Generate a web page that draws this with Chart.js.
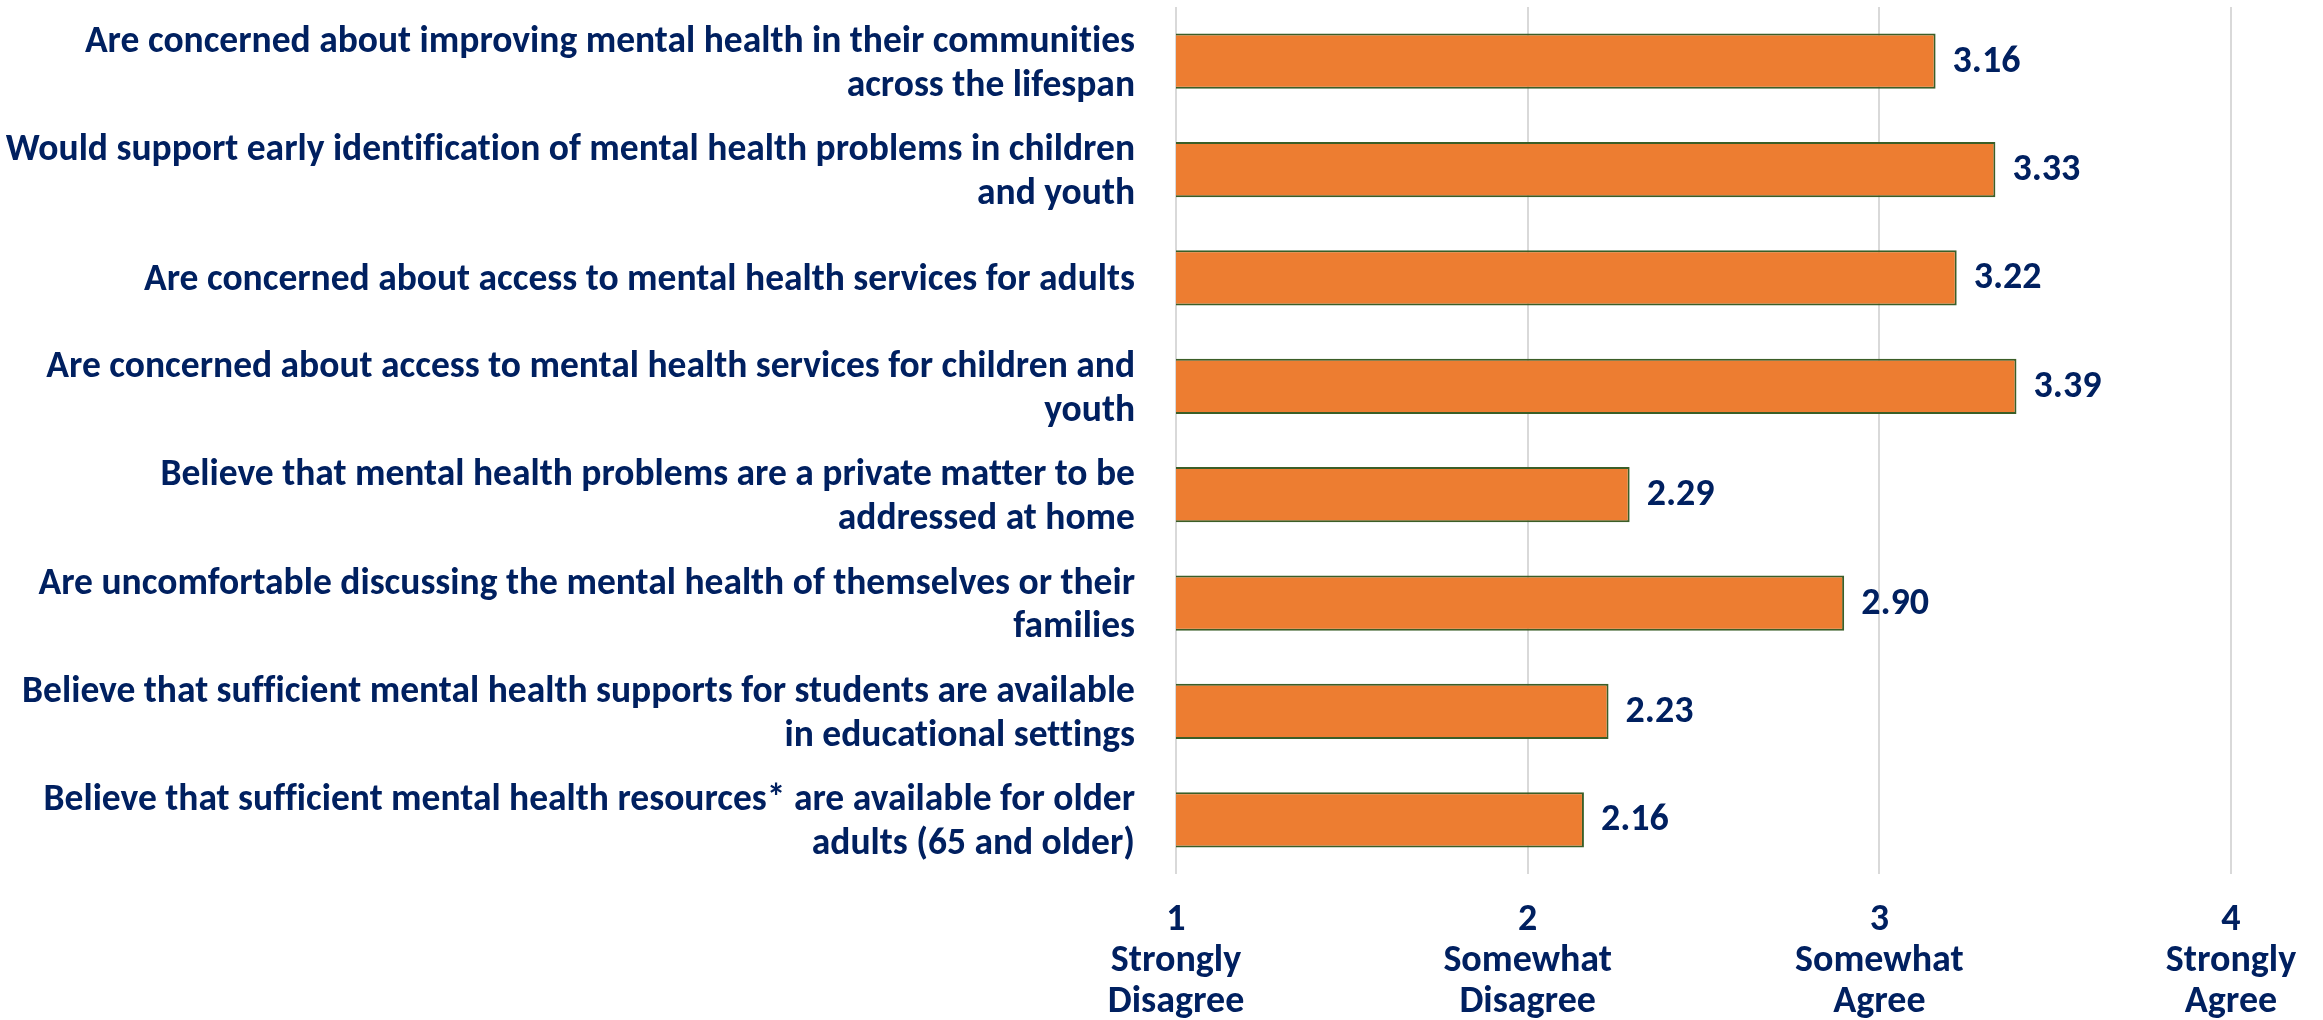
<!DOCTYPE html>
<html lang="en">
  <head>
    <meta charset="UTF-8" />
    <title>Mental health attitudes</title>
    <style>
      html, body { margin: 0; padding: 0; background: #fff; }
      #wrap { width: 2323px; height: 1020px; position: relative; }
    </style>
  </head>
  <body>
    <div id="wrap"><canvas id="myChart"></canvas></div>

    <script src="https://cdn.jsdelivr.net/npm/chart.js@4"></script>
    <script>
      const categories = [
        ["Are concerned about improving mental health in their communities", "across the lifespan"],
        ["Would support early identification of mental health problems in children", "and youth"],
        "Are concerned about access to mental health services for adults",
        ["Are concerned about access to mental health services for children and", "youth"],
        ["Believe that mental health problems are a private matter to be", "addressed at home"],
        ["Are uncomfortable discussing the mental health of themselves or their", "families"],
        ["Believe that sufficient mental health supports for students are available", "in educational settings"],
        ["Believe that sufficient mental health resources* are available for older", "adults (65 and older)"],
      ];
      const values = [3.16, 3.33, 3.22, 3.39, 2.29, 2.90, 2.23, 2.16];
      const tickLabels = {
        1: ["1", "Strongly", "Disagree"],
        2: ["2", "Somewhat", "Disagree"],
        3: ["3", "Somewhat", "Agree"],
        4: ["4", "Strongly", "Agree"],
      };

      const navy = "#002060";
      const fontFamily = 'Carlito, "Liberation Sans Narrow", "Open Sans", sans-serif';

      // no "ti" ligatures, like the original
      const plainText = {
        id: "plainText",
        beforeDraw(chart) {
          chart.ctx.textRendering = "optimizeSpeed";
        },
      };

      // value labels at the end of each bar
      const valueLabels = {
        id: "valueLabels",
        afterDatasetsDraw(chart) {
          const ctx = chart.ctx;
          const meta = chart.getDatasetMeta(0);
          ctx.save();
          ctx.fillStyle = navy;
          ctx.font = "bold 38px " + fontFamily;
          ctx.textAlign = "left";
          ctx.textBaseline = "middle";
          meta.data.forEach((bar, i) => {
            ctx.fillText(values[i].toFixed(2), bar.x + 17, bar.y + 1);
          });
          ctx.restore();
        },
      };

      const chart = new Chart("myChart", {
        type: "bar",
        data: {
          labels: categories,
          datasets: [
            {
              data: values,
              backgroundColor: "#ED7D31",
              borderColor: "#3B5E27",
              borderWidth: 2,
              borderSkipped: false,
              barPercentage: 0.51,
              categoryPercentage: 1.0,
            },
          ],
        },
        options: {
          indexAxis: "y",
          responsive: true,
          maintainAspectRatio: false,
          animation: false,
          layout: { padding: { top: 7, right: 92, bottom: 0, left: 0 } },
          plugins: {
            legend: { display: false },
            tooltip: { enabled: false },
          },
          scales: {
            x: {
              min: 1,
              max: 4,
              border: { display: false },
              grid: { color: "#D9D9D9", lineWidth: 2, drawTicks: false },
              afterFit: (scale) => { scale.height = 146; },
              ticks: {
                stepSize: 1,
                padding: 26,
                color: navy,
                font: { family: fontFamily, size: 38, weight: "bold", lineHeight: 1.08 },
                callback: (v) => tickLabels[v],
              },
            },
            y: {
              border: { display: false },
              grid: { display: false },
              afterFit: (scale) => {
                scale.width = 1176;
                scale.paddingTop = 0;
                scale.paddingBottom = 0;
              },
              ticks: {
                padding: 33,
                labelOffset: 3,
                color: navy,
                font: { family: fontFamily, size: 37.5, weight: "bold", lineHeight: 1.17 },
              },
            },
          },
        },
        plugins: [plainText, valueLabels],
      });
    </script>
  </body>
</html>
